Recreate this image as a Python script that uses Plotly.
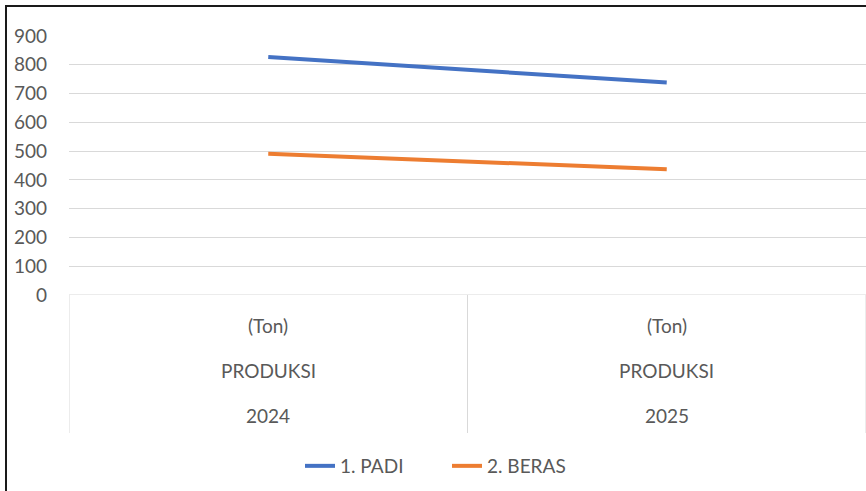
import plotly.graph_objects as go

# Data
years = ["2024", "2025"]
row_unit = ["(Ton)", "(Ton)"]
row_label = ["PRODUKSI", "PRODUKSI"]
padi = [827, 738]
beras = [491, 437]
y_ticks = [0, 100, 200, 300, 400, 500, 600, 700, 800, 900]

W, H = 866, 491
L, T = 69, 36
PLOT_BOTTOM = 295
plot_h = PLOT_BOTTOM - T
plot_w = W - L

def py(px):
    return (PLOT_BOTTOM - px) / plot_h

def pxr(px):
    return (px - L) / plot_w

FONT = "Lato, 'Open Sans', sans-serif"
TXT = "#595959"
GRID = "#D9D9D9"
FS = 19

xs = list(range(len(years)))

fig = go.Figure()
fig.add_trace(go.Scatter(x=xs, y=padi, mode="lines", name="1. PADI",
                         line=dict(color="#4472C4", width=4)))
fig.add_trace(go.Scatter(x=xs, y=beras, mode="lines", name="2. BERAS",
                         line=dict(color="#ED7D31", width=4)))

shapes = []
# category separators
for xv in [-0.5, 0.5, 1.5]:
    shapes.append(dict(type="line", xref="x", yref="paper", x0=xv, x1=xv,
                       y0=0, y1=py(433), line=dict(color=GRID, width=1)))
# axis line
shapes.append(dict(type="line", xref="x", yref="y", x0=-0.5, x1=1.5, y0=0, y1=0,
                   line=dict(color=GRID, width=1)))
# outer border (left and top)
shapes.append(dict(type="line", xref="paper", yref="paper", x0=pxr(6), x1=pxr(6),
                   y0=py(495), y1=py(6), line=dict(color="#1a1a1a", width=2)))
shapes.append(dict(type="line", xref="paper", yref="paper", x0=pxr(5), x1=pxr(870),
                   y0=py(6), y1=py(6), line=dict(color="#1a1a1a", width=2)))

annotations = []
for i in xs:
    for txt, ypx in [(row_unit[i], 325), (row_label[i], 370), (years[i], 415)]:
        annotations.append(dict(x=i, y=py(ypx), xref="x", yref="paper", text=txt,
                                showarrow=False, xanchor="center", yanchor="middle",
                                font=dict(family=FONT, size=FS, color=TXT)))

fig.update_layout(
    width=W, height=H,
    margin=dict(l=L, r=0, t=T, b=H - PLOT_BOTTOM),
    paper_bgcolor="white", plot_bgcolor="white",
    shapes=shapes, annotations=annotations,
    showlegend=True,
    legend=dict(orientation="h", x=pxr(300), xanchor="left", y=py(466), yanchor="middle",
                font=dict(family=FONT, size=FS, color=TXT),
                entrywidth=102, entrywidthmode="pixels",
                bgcolor="rgba(0,0,0,0)"),
    xaxis=dict(range=[-0.5, 1.5], showticklabels=False, showgrid=False, zeroline=False,
               showline=False, ticks=""),
    yaxis=dict(range=[0, 900], tickvals=y_ticks, showgrid=True, gridcolor=GRID, gridwidth=1,
               zeroline=False, showline=False, ticks="", ticklabelstandoff=21,
               tickfont=dict(family=FONT, size=FS, color=TXT)),
)

fig.write_html("out.html", config={"displayModeBar": False},
               post_script="document.body.style.margin='0';document.body.style.overflow='hidden';")
